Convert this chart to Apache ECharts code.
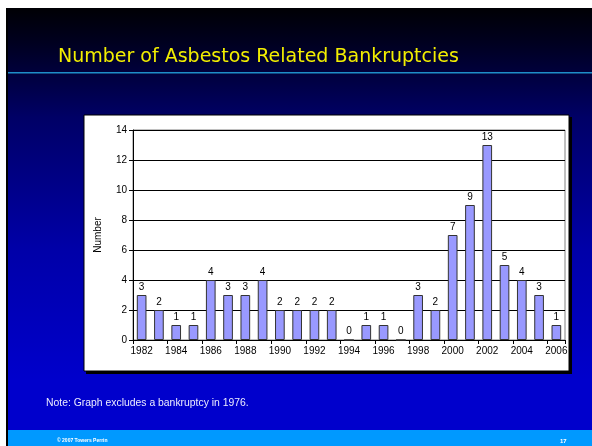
<!DOCTYPE html>
<html>
<head>
<meta charset="utf-8">
<script src="https://cdn.jsdelivr.net/npm/echarts@6/dist/echarts.min.js"></script>
<style>
html,body{margin:0;padding:0;background:#fff;}
#chart{width:592px;height:446px;}
</style>
</head>
<body>
<div id="chart"></div>
<script>
var years=['1982','1983','1984','1985','1986','1987','1988','1989','1990','1991','1992','1993','1994',
    '1995','1996','1997','1998','1999','2000','2001','2002','2003','2004','2005','2006'];
var counts=[3,2,1,1,4,3,3,4,2,2,2,2,0,1,1,0,3,2,7,9,13,5,4,3,1];
var yTicks=[0,2,4,6,8,10,12,14];

var chart=echarts.init(document.getElementById('chart'));
chart.setOption({
    animation:false,
    backgroundColor:'#ffffff',
    graphic:[
        // slide background
        {type:'rect',z:-10,shape:{x:6,y:8,width:586,height:438},
            style:{fill:new echarts.graphic.LinearGradient(0,0,0,1,[
                {offset:0,color:'#000004'},
                {offset:0.08,color:'#000020'},
                {offset:0.25,color:'#000066'},
                {offset:0.55,color:'#0000a8'},
                {offset:0.85,color:'#0000cc'},
                {offset:1,color:'#0000cc'}
            ])}},
        {type:'rect',z:-9,shape:{x:6,y:8,width:2,height:438},style:{fill:'#000000'}},
        // title + rule
        {type:'text',z:5,x:58,y:57,style:{text:'Number of Asbestos Related Bankruptcies',
            fill:'#f2ee00',font:'19px "DejaVu Sans", Verdana, sans-serif',textVerticalAlign:'middle'}},
        {type:'rect',z:5,shape:{x:8,y:72,width:584,height:1.5},style:{fill:'#1e8ec8'}},
        // chart panel
        {type:'rect',z:-5,shape:{x:86,y:117,width:486,height:257},style:{fill:'#000000'}},
        {type:'rect',z:-4,shape:{x:84,y:115,width:485,height:256},style:{fill:'#ffffff',stroke:'#000000',lineWidth:1}},
        // note
        {type:'text',z:5,x:46,y:403,style:{text:'Note: Graph excludes a bankruptcy in 1976.',
            fill:'#ececff',font:'10.4px Arial, "Liberation Sans", sans-serif',textVerticalAlign:'middle'}},
        // footer
        {type:'rect',z:-8,shape:{x:8,y:430,width:584,height:16},style:{fill:'#0099ff'}},
        {type:'text',z:5,x:57,y:441,style:{text:'© 2007 Towers Perrin',
            fill:'#ffffff',font:'bold 5px Arial, "Liberation Sans", sans-serif',textVerticalAlign:'middle'}},
        {type:'text',z:5,x:560,y:441,style:{text:'17',
            fill:'#ffffff',font:'bold 6px Arial, "Liberation Sans", sans-serif',textVerticalAlign:'middle'}}
    ],
    grid:{left:133,top:130,right:27,bottom:106,show:true,borderColor:'#808080',borderWidth:1,backgroundColor:'transparent'},
    xAxis:{
        type:'category',
        data:years,
        axisLine:{lineStyle:{color:'#000000',width:1}},
        axisTick:{show:true,alignWithLabel:false,length:4,lineStyle:{color:'#000000'}},
        axisLabel:{interval:1,color:'#000000',fontSize:10,fontFamily:'Arial, "Liberation Sans", sans-serif',margin:6}
    },
    yAxis:{
        type:'value',
        min:0,max:14,interval:2,
        name:'Number',
        nameLocation:'middle',
        nameGap:30,
        nameTextStyle:{color:'#000000',fontSize:10,fontFamily:'Arial, "Liberation Sans", sans-serif'},
        axisLine:{show:true,lineStyle:{color:'#000000',width:1}},
        axisTick:{show:true,length:4,lineStyle:{color:'#000000'}},
        axisLabel:{color:'#000000',fontSize:10,fontFamily:'Arial, "Liberation Sans", sans-serif',margin:6,
            formatter:function(v){return yTicks.indexOf(v)>=0?String(v):'';}},
        splitLine:{show:true,lineStyle:{color:'#000000',width:1}}
    },
    series:[{
        type:'bar',
        data:counts,
        barWidth:'56%',
        itemStyle:{color:'#9999ff',borderColor:'#333333',borderWidth:1},
        label:{show:true,position:'top',distance:3,color:'#000000',fontSize:10,
            fontFamily:'Arial, "Liberation Sans", sans-serif'}
    }]
});
</script>
</body>
</html>
